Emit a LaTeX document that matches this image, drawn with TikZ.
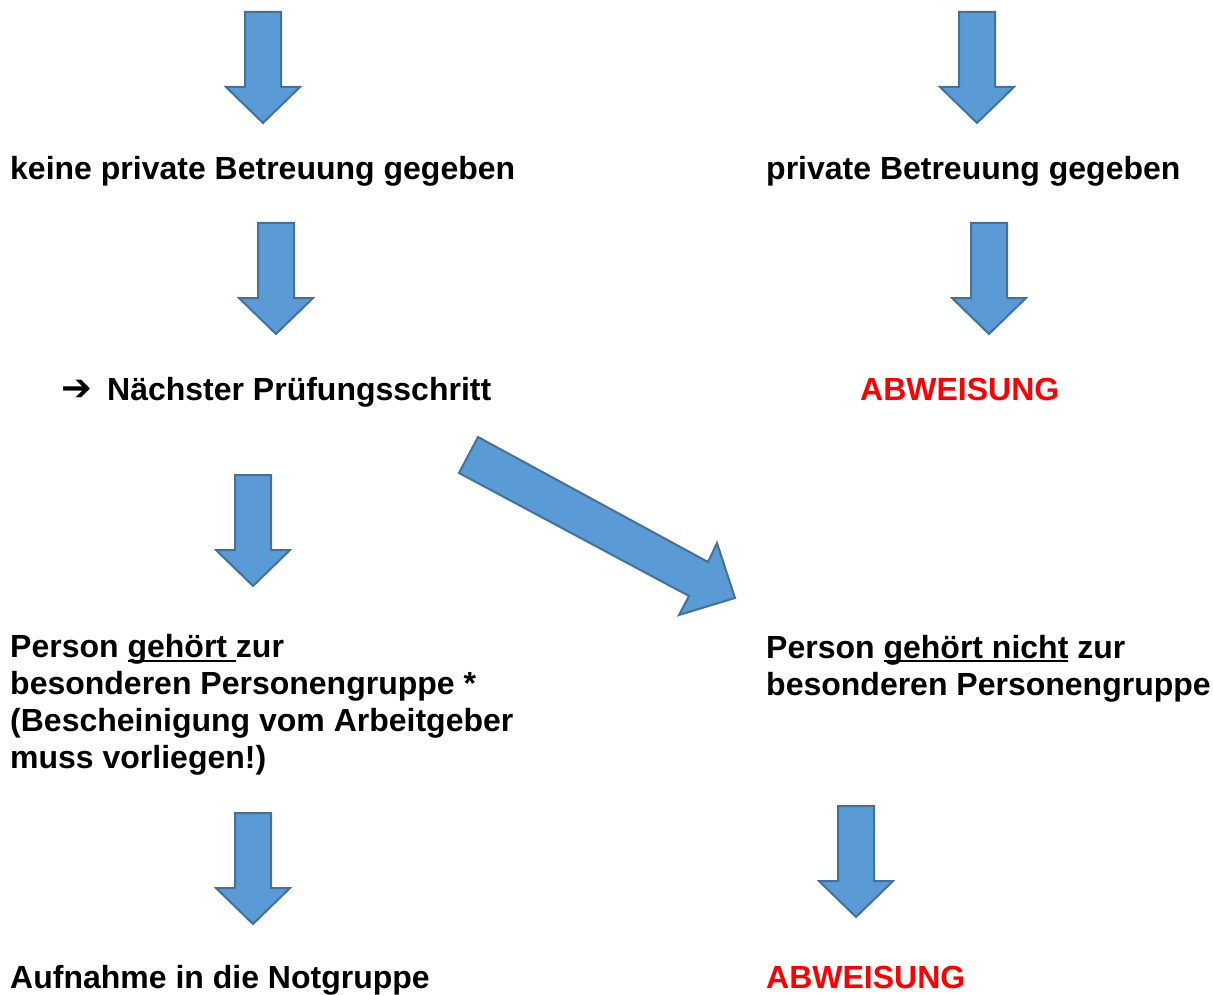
\documentclass[tikz,border=0pt]{standalone}
\usepackage{fontspec}
\setmainfont{Liberation Sans}
\newfontfamily\symfont{DejaVu Sans}
\definecolor{arrfill}{HTML}{5B9BD5}
\definecolor{arrline}{HTML}{41719C}
\definecolor{warnred}{HTML}{FF0000}
\newcommand\myul[1]{\setbox0\hbox{#1}\rlap{\rule[-4.2pt]{\wd0}{2.3pt}}\box0\relax}
\tikzset{
  blockarrow/.style={fill=arrfill,draw=arrline,line width=2pt,line join=miter},
  lbl/.style={anchor=base west,inner sep=0pt,font=\bfseries\fontsize{32}{36.8}\selectfont,align=left},
  redlbl/.style={lbl,text=warnred},
  darr/.pic={\path[blockarrow] (-18,0) -- (18,0) -- (18,75) -- (37,75) -- (0,111) -- (-37,75) -- (-18,75) -- cycle;}
}
\begin{document}
\begin{tikzpicture}[x=1pt,y=-1pt]
\useasboundingbox (0,0) rectangle (1213,995);
% down arrows
\pic at (263,12) {darr};
\pic at (977,12) {darr};
\pic at (276,223) {darr};
\pic at (989,223) {darr};
\pic at (253,475) {darr};
\pic at (253,813) {darr};
\pic at (856,806) {darr};
% diagonal arrow
\path[blockarrow] (478,437) -- (708,562) -- (717,543) -- (735,598) -- (679,615) -- (689,596) -- (459,473) -- cycle;
% texts
\node[lbl] (nopriv) at (10,180) {keine private Betreuung gegeben};
\node[lbl] (priv) at (766,180) {private Betreuung gegeben};
\node[lbl] (arrsym) at (61,400) {\symfont\bfseries\scalebox{1.15}{➔}};
\node[lbl] (next) at (107,400) {Nächster Prüfungsschritt};
\node[redlbl] (rej1) at (860,400) {ABWEISUNG};
\node[lbl] (yes) at (10,768) {Person \myul{gehört }zur\\besonderen Personengruppe *\\(Bescheinigung vom Arbeitgeber\\muss vorliegen!)};
\node[lbl] (no) at (766,695) {Person \myul{gehört nicht} zur\\besonderen Personengruppe};
\node[lbl] (admit) at (10,988) {Aufnahme in die Notgruppe};
\node[redlbl] (rej2) at (766,988) {ABWEISUNG};
\end{tikzpicture}
\end{document}
